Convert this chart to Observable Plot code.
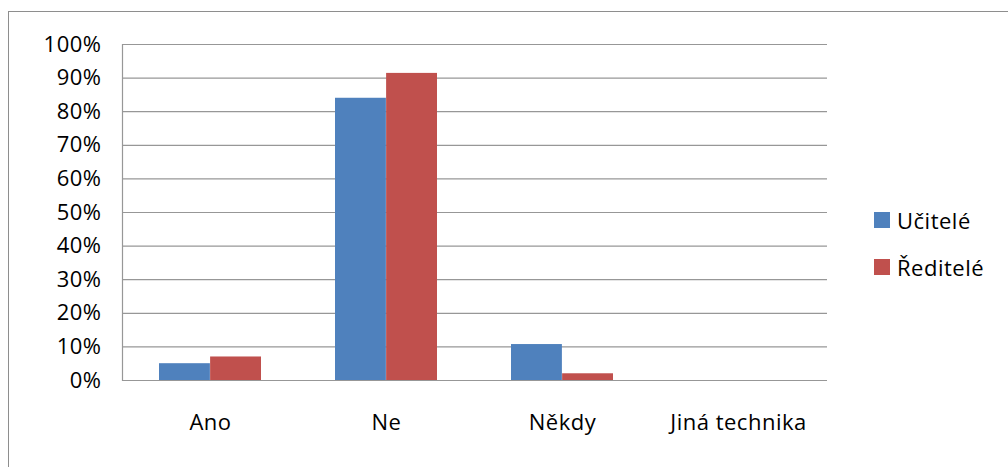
<!DOCTYPE html>
<html>
<head>
<meta charset="utf-8">
<script src="https://cdn.jsdelivr.net/npm/d3@7"></script>
<script src="https://cdn.jsdelivr.net/npm/@observablehq/plot@0.6"></script>
<style>
  html, body { margin: 0; padding: 0; background: #fff; overflow: hidden; }
  #wrap { position: relative; width: 1008px; height: 467px; overflow: hidden; font-family: "Open Sans", sans-serif; }
  #border { position: absolute; left: 8px; top: 11px; width: 1200px; height: 700px; border: 1.5px solid #8e8e8e; box-sizing: border-box; }
  #chart { position: absolute; left: 0; top: 0; }
  #chart text { letter-spacing: 0.5px; }
  #legend { position: absolute; left: 874px; top: 204px; font-size: 22px; letter-spacing: 0.5px; color: #000; }
  .item { display: flex; align-items: center; height: 32px; margin-bottom: 15px; }
  .sw { width: 16px; height: 16px; margin-right: 7px; }
</style>
</head>
<body>
<div id="wrap">
  <div id="border"></div>
  <div id="chart"></div>
  <div id="legend"></div>
</div>
<script>
const categories = ["Ano", "Ne", "Někdy", "Jiná technika"];
const series = ["Učitelé", "Ředitelé"];
const ucitele = [0.05, 0.84, 0.107, 0];
const reditele = [0.07, 0.914, 0.02, 0];
const yTicks = [0, 0.1, 0.2, 0.3, 0.4, 0.5, 0.6, 0.7, 0.8, 0.9, 1.0];
const colors = ["#4F81BD", "#C0504D"];

const data = [];
categories.forEach((c, i) => {
  data.push({cat: c, series: series[0], value: ucitele[i]});
  data.push({cat: c, series: series[1], value: reditele[i]});
});

const W = 1008, H = 467;
const mL = 122, mR = 181, mT = 44, mB = 87;
const pIn = 0.42, pOut = 0.21;
const plotW = W - mL - mR;
const step = plotW / (categories.length - pIn + 2 * pOut);
const half = step * (1 - pIn) / 2;
const gridColor = "#979797";

const chart = Plot.plot({
  width: W,
  height: H,
  marginLeft: mL,
  marginRight: mR,
  marginTop: mT,
  marginBottom: mB,
  style: {fontFamily: "Open Sans, sans-serif", fontSize: "22px", color: "#000", background: "transparent"},
  x: {type: "band", domain: categories, paddingInner: pIn, paddingOuter: pOut},
  y: {domain: [0, 1]},
  color: {domain: series, range: colors},
  marks: [
    Plot.ruleY(yTicks, {stroke: gridColor, strokeWidth: 1.2}),
    Plot.barY(data.filter(d => d.series === series[0]), {x: "cat", y: "value", fill: "series", insetRight: half}),
    Plot.barY(data.filter(d => d.series === series[1]), {x: "cat", y: "value", fill: "series", insetLeft: half}),
    Plot.frame({anchor: "left", stroke: gridColor, strokeWidth: 1.2}),
    Plot.ruleY([0], {stroke: gridColor, strokeWidth: 1.2}),
    Plot.axisY({ticks: yTicks, tickFormat: d3.format(".0%"), tickSize: 0, tickPadding: 21, fontSize: 22, label: null}),
    Plot.axisX({tickSize: 0, tickPadding: 34, fontSize: 22, label: null})
  ]
});
document.getElementById("chart").appendChild(chart);

const legend = document.getElementById("legend");
series.forEach((s, i) => {
  const it = document.createElement("div");
  it.className = "item";
  it.innerHTML = `<div class="sw" style="background:${colors[i]}"></div><span>${s}</span>`;
  legend.appendChild(it);
});
</script>
</body>
</html>
